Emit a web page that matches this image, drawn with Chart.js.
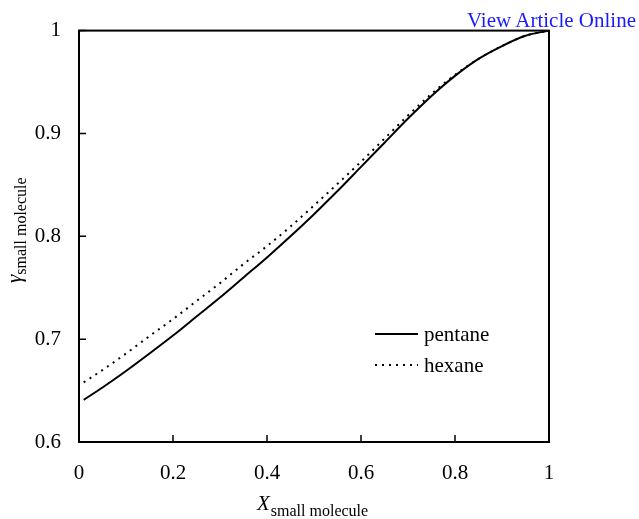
<!DOCTYPE html>
<html>
<head>
<meta charset="utf-8">
<script src="https://cdn.jsdelivr.net/npm/chart.js@4.4.1/dist/chart.umd.min.js"></script>
<style>
  body { margin: 0; background: #fff; }
  #wrap { position: relative; width: 639px; height: 519px; }
  #link {
    position: absolute; right: 3px; top: 10px;
    font: 21px "Liberation Serif", serif; line-height: 21px;
    color: #1a1aff;
  }
</style>
</head>
<body>
<div id="wrap">
  <canvas id="myChart" width="639" height="519"></canvas>
  <div id="link">View Article Online</div>
</div>
<script>
// mole fraction of the small molecule
const xs = [0.01, 0.05, 0.1, 0.15, 0.2, 0.25, 0.3, 0.35, 0.4, 0.45, 0.5,
    0.55, 0.6, 0.65, 0.7, 0.75, 0.8, 0.85, 0.9, 0.95, 1.0];
// activity coefficient
const pentane = [0.641, 0.653, 0.669, 0.686, 0.7035, 0.722, 0.7405, 0.760, 0.7795, 0.800, 0.8215,
    0.844, 0.8675, 0.891, 0.9145, 0.9365, 0.956, 0.9725, 0.985, 0.995, 1.0];
const hexane = [0.658, 0.670, 0.686, 0.703, 0.7195, 0.737, 0.7545, 0.773, 0.7905, 0.8095, 0.830,
    0.851, 0.8725, 0.895, 0.9175, 0.9385, 0.957, 0.9725, 0.985, 0.995, 1.0];
const seriesNames = ['pentane', 'hexane'];
const xTicks = [0, 0.2, 0.4, 0.6, 0.8, 1];
const yTicks = [0.6, 0.7, 0.8, 0.9, 1];

const serif = '"Liberation Serif", "Times New Roman", serif';

const toPoints = (ys) => xs.map((x, i) => ({ x: x, y: ys[i] }));
const fmt = (v) => String(Number(v.toFixed(1)));

// frame, inward ticks, axis titles with subscripts, legend inside the plot
const decor = {
    id: 'decor',
    afterDraw(chart) {
        const ctx = chart.ctx;
        const a = chart.chartArea;
        const sx = chart.scales.x, sy = chart.scales.y;
        ctx.save();
        ctx.strokeStyle = '#000';
        ctx.lineWidth = 2;
        ctx.strokeRect(a.left, a.top, a.right - a.left, a.bottom - a.top);

        ctx.lineWidth = 1.5;
        ctx.beginPath();
        sx.ticks.forEach((t, i) => {
            const px = sx.getPixelForTick(i);
            ctx.moveTo(px, a.bottom);
            ctx.lineTo(px, a.bottom - 7);
        });
        sy.ticks.forEach((t, i) => {
            const py = sy.getPixelForTick(i);
            ctx.moveTo(a.left, py);
            ctx.lineTo(a.left + 7, py);
        });
        ctx.stroke();

        // x title
        ctx.fillStyle = '#000';
        ctx.textBaseline = 'alphabetic';
        ctx.textAlign = 'left';
        ctx.font = 'italic 21px ' + serif;
        ctx.fillText('X', 257, 510);
        const wx = ctx.measureText('X').width;
        ctx.font = '16px ' + serif;
        ctx.fillText('small molecule', 257 + wx + 1, 516);

        // y title
        ctx.save();
        ctx.translate(21, 283);
        ctx.rotate(-Math.PI / 2);
        ctx.font = 'italic 21px ' + serif;
        ctx.fillText('\u03b3', 0, 0);
        const wg = ctx.measureText('\u03b3').width;
        ctx.font = '16px ' + serif;
        ctx.fillText('small molecule', wg, 5);
        ctx.restore();

        // legend
        chart.data.datasets.forEach((ds, i) => {
            const y = 334 + i * 31;
            ctx.strokeStyle = ds.borderColor;
            ctx.lineWidth = ds.borderWidth;
            ctx.setLineDash(ds.borderDash || []);
            ctx.beginPath();
            ctx.moveTo(375, y);
            ctx.lineTo(418, y);
            ctx.stroke();
            ctx.setLineDash([]);
            ctx.font = '21px ' + serif;
            ctx.fillText(ds.label, 424, y + 7);
        });
        ctx.restore();
    }
};

const data = {
    datasets: [{
        label: seriesNames[0],
        data: toPoints(pentane),
        borderColor: '#000',
        borderWidth: 2,
        pointRadius: 0,
        cubicInterpolationMode: 'monotone'
    }, {
        label: seriesNames[1],
        data: toPoints(hexane),
        borderColor: '#000',
        borderWidth: 2,
        borderDash: [2, 5],
        pointRadius: 0,
        cubicInterpolationMode: 'monotone'
    }]
};

const config = {
    type: 'line',
    data: data,
    options: {
        responsive: false,
        animation: false,
        events: [],
        layout: { padding: { top: 30, right: 90, left: 0, bottom: 0 } },
        plugins: { legend: { display: false }, tooltip: { enabled: false } },
        scales: {
            x: {
                type: 'linear',
                min: 0,
                max: 1,
                afterBuildTicks: (s) => { s.ticks = xTicks.map(v => ({ value: v })); },
                afterFit: (s) => { s.height = 77; },
                grid: { display: false, drawTicks: false },
                border: { display: false },
                ticks: {
                    padding: 19,
                    color: '#000',
                    font: { family: serif, size: 21 },
                    maxRotation: 0,
                    callback: (v) => fmt(v)
                }
            },
            y: {
                min: 0.6,
                max: 1,
                afterBuildTicks: (s) => { s.ticks = yTicks.map(v => ({ value: v })); },
                afterFit: (s) => { s.width = 79; },
                grid: { display: false, drawTicks: false },
                border: { display: false },
                ticks: {
                    padding: 18,
                    color: '#000',
                    font: { family: serif, size: 21 },
                    callback: (v) => fmt(v)
                }
            }
        }
    },
    plugins: [decor]
};

const myChart = new Chart(document.getElementById('myChart'), config);
</script>
</body>
</html>
